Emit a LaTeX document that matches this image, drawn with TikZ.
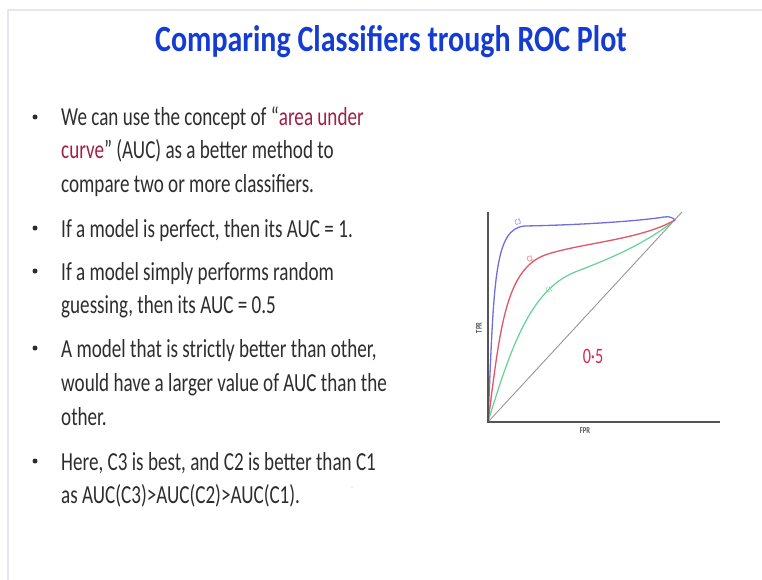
\documentclass[tikz,border=0pt]{standalone}
\usepackage{fontspec}
\setmainfont{Carlito}[FakeStretch=0.735]
\newfontfamily\titlefont{Carlito}[FakeStretch=0.81]
\usepackage{tikz}
\usetikzlibrary{calc, positioning}
\definecolor{titleBlue}{RGB}{20,60,210}
\definecolor{bodyGray}{RGB}{45,45,45}
\definecolor{termRed}{RGB}{160,30,70}
\definecolor{axisGray}{RGB}{85,85,85}
\definecolor{diagGray}{RGB}{150,150,150}
\definecolor{cThree}{RGB}{110,110,225}
\definecolor{cTwo}{RGB}{225,85,100}
\definecolor{cOne}{RGB}{100,210,150}
\definecolor{inkRed}{RGB}{215,40,80}
\definecolor{frameGray}{RGB}{230,230,242}

\tikzset{
    line/.style={anchor=base west, inner sep=0pt, text=bodyGray, font=\fontsize{26}{30}\selectfont},
    dot/.style={fill=bodyGray, circle, inner sep=0pt, minimum size=5pt},
    curvelabel/.style={inner sep=0pt, font=\fontsize{8}{9}\selectfont},
    axislabel/.style={inner sep=0pt, text=axisGray, font=\bfseries\fontsize{9}{10}\selectfont},
}

\begin{document}
\begin{tikzpicture}[x=1pt, y=-1pt]
    \useasboundingbox (0,0) rectangle (762,580);
    % slide frame
    \draw[frameGray, line width=1.5pt] (8,580) -- (8,10) -- (762,10);

    % title
    \node[anchor=base, inner sep=0pt, text=titleBlue, font=\titlefont\bfseries\fontsize{37}{40}\selectfont] (title) at (391,52) {Comparing Classifiers trough ROC Plot};

    % bullets
    \node[dot] (b1) at (35,117) {};
    \node[dot] (b2) at (35,228) {};
    \node[dot] (b3) at (35,271) {};
    \node[dot] (b4) at (35,348) {};
    \node[dot] (b5) at (35,461) {};

    \node[line] (l1) at (61,126) {We can use the concept of \textquotedblleft\textcolor{termRed}{area under}};
    \node[line] (l2) at (61,159) {\textcolor{termRed}{curve}\textquotedblright\ (AUC) as a better method to};
    \node[line] (l3) at (61,192) {compare two or more classifiers.};
    \node[line] (l4) at (61,237) {If a model is perfect, then its AUC = 1.};
    \node[line] (l5) at (61,280) {If a model simply performs random};
    \node[line] (l6) at (61,313) {guessing, then its AUC = 0.5};
    \node[line] (l7) at (61,357) {A model that is strictly better than other,};
    \node[line] (l8) at (61,391) {would have a larger value of AUC than the};
    \node[line] (l9) at (61,425) {other.};
    \node[line] (l10) at (61,470) {Here, C3 is best, and C2 is better than C1};
    \node[line] (l11) at (61,503) {as AUC(C3)>AUC(C2)>AUC(C1).};
    \fill[inkRed!50] (352,487) circle (0.7pt);

    % ROC plot
    \coordinate (O) at (488,422);
    \coordinate (E) at (675,220);
    \draw[diagGray, line width=0.9pt] (O) -- (682,212);
    \draw[cOne, line width=1.2pt] (O) .. controls (510,350) and (530,290) .. (575,272)
        .. controls (620,255) and (650,240) .. (E);
    \draw[cTwo, line width=1.3pt] (O) .. controls (500,330) and (505,270) .. (545,255)
        .. controls (580,243) and (640,240) .. (E);
    \draw[cThree, line width=1.3pt] (O) .. controls (494,280) and (494,228) .. (525,226)
        .. controls (580,225) and (640,221) .. (664,217) .. controls (670,216) and (673,218) .. (E);
    \draw[axisGray, line width=2.5pt] (488,212) -- (O) -- (720,422);

    \node[curvelabel, text=cThree, rotate=15] (c3) at (518,222) {C3};
    \node[curvelabel, text=cTwo, rotate=25] (c2) at (530,259) {C2};
    \node[curvelabel, text=cOne, rotate=30] (c1) at (549,290) {C1};
    \node[axislabel, rotate=90] (tpr) at (479,328) {TPR};
    \node[axislabel] (fpr) at (585,431) {FPR};
    \node[text=inkRed, font=\fontsize{22}{24}\selectfont] (half) at (593,356) {0\textperiodcentered 5};
\end{tikzpicture}
\end{document}
